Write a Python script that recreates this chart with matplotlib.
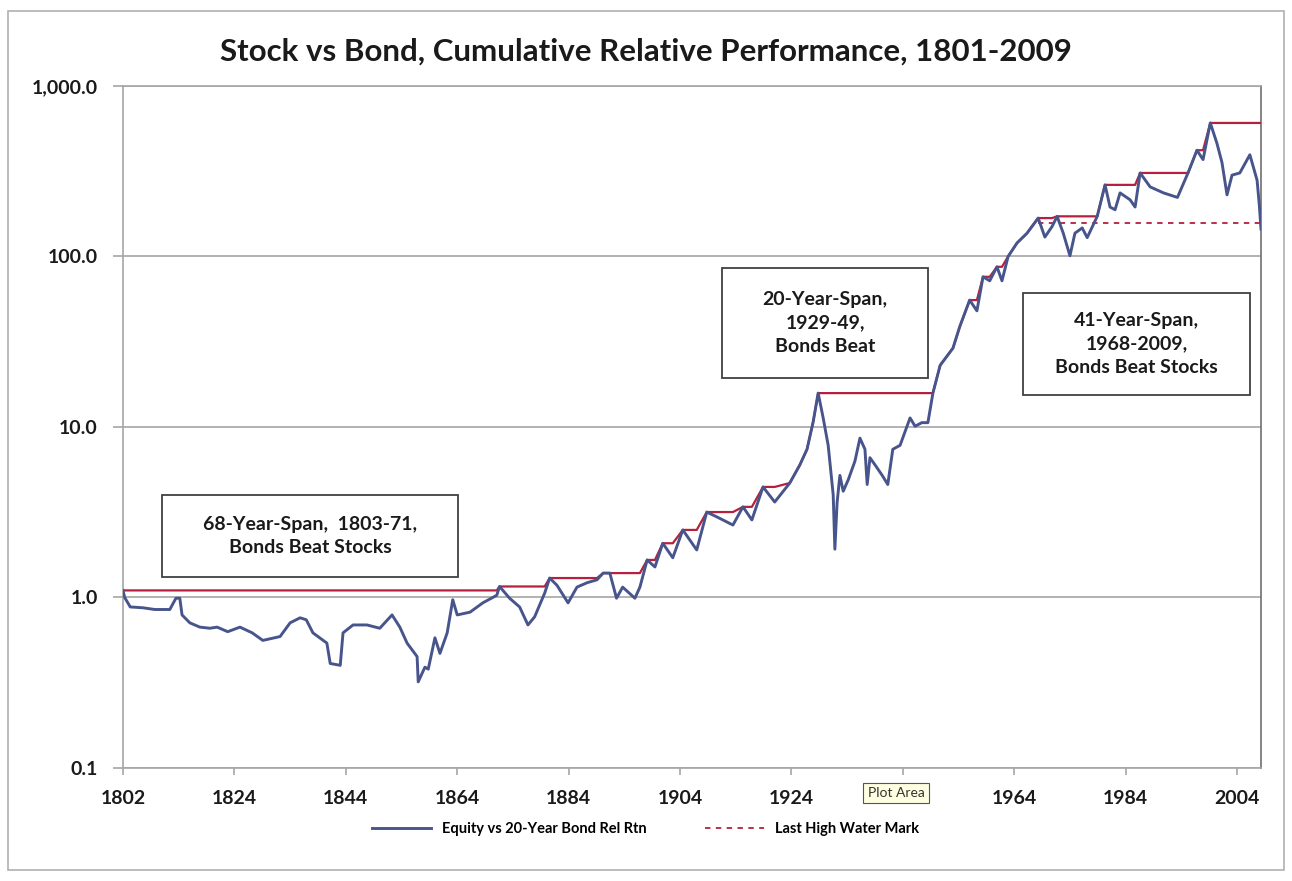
import matplotlib
matplotlib.use("Agg")
import matplotlib.pyplot as plt
import numpy as np
from matplotlib.lines import Line2D
from matplotlib.patches import Rectangle

plt.rcParams["font.family"] = ["Lato", "DejaVu Sans"]

# x is the chart's category position expressed in years (ticks every 20)
rel_years = [
    1804.0, 1804.3, 1805.3, 1807.6, 1809.7, 1812.4, 1813.5, 1814.2, 1814.6, 1816.0,
    1817.8, 1819.6, 1820.9, 1822.8, 1825.0, 1827.2, 1829.1, 1832.2, 1834.0, 1835.8,
    1836.9, 1838.1, 1840.6, 1841.2, 1843.0, 1843.5, 1845.3, 1847.8, 1850.1, 1852.3,
    1853.7, 1855.0, 1856.8, 1857.0, 1858.2, 1858.8, 1860.0, 1860.9, 1862.2, 1863.2,
    1864.0, 1866.3, 1868.6, 1871.1, 1871.6, 1873.4, 1875.2, 1876.7, 1877.9, 1879.7,
    1880.6, 1881.9, 1883.9, 1885.5, 1887.3, 1889.1, 1890.2, 1891.4, 1892.6, 1893.7,
    1895.9, 1896.8, 1898.1, 1899.5, 1900.9, 1902.7, 1904.5, 1907.0, 1908.8, 1910.6,
    1913.5, 1915.3, 1916.9, 1918.9, 1921.0, 1923.7, 1925.5, 1926.8, 1927.9, 1928.8,
    1929.7, 1930.6, 1931.5, 1931.8, 1932.2, 1932.7, 1933.3, 1934.2, 1935.4, 1936.3,
    1937.2, 1937.6, 1938.1, 1939.0, 1940.3, 1941.3, 1942.2, 1943.5, 1945.3, 1946.2,
    1947.4, 1948.5, 1949.4, 1950.7, 1953.0, 1954.2, 1956.0, 1957.3, 1958.4, 1959.6,
    1960.9, 1961.8, 1962.9, 1964.5, 1966.3, 1968.3, 1969.5, 1970.8, 1971.7, 1972.8,
    1974.0, 1974.9, 1976.2, 1977.1, 1978.9, 1980.3, 1981.2, 1982.1, 1983.0, 1984.8,
    1985.7, 1986.6, 1988.4, 1990.8, 1993.3, 1995.2, 1996.8, 1997.9, 1999.2, 2000.4,
    2001.3, 2002.2, 2003.1, 2004.5, 2006.3, 2007.6, 2008.0, 2008.3,
]
rel_values = [
    1.10, 1.00, 0.88, 0.87, 0.85, 0.85, 0.99, 0.99, 0.79, 0.71,
    0.67, 0.66, 0.67, 0.63, 0.67, 0.62, 0.56, 0.59, 0.71, 0.76,
    0.74, 0.62, 0.54, 0.41, 0.40, 0.62, 0.69, 0.69, 0.66, 0.79,
    0.67, 0.54, 0.45, 0.32, 0.39, 0.38, 0.58, 0.47, 0.62, 0.97,
    0.79, 0.82, 0.93, 1.03, 1.16, 0.99, 0.88, 0.69, 0.77, 1.06,
    1.30, 1.18, 0.93, 1.15, 1.22, 1.27, 1.39, 1.39, 0.99, 1.15,
    0.99, 1.15, 1.66, 1.51, 2.08, 1.71, 2.49, 1.90, 3.17, 2.97,
    2.66, 3.40, 2.85, 4.45, 3.63, 4.69, 5.98, 7.4, 10.7, 15.8,
    11.3, 7.8, 4.0, 1.92, 3.6, 5.2, 4.2, 4.9, 6.3, 8.6,
    7.4, 4.6, 6.6, 6.0, 5.2, 4.6, 7.4, 7.8, 11.3, 10.1,
    10.6, 10.6, 15.8, 23, 29, 38.6, 55.5, 48, 76, 72,
    87, 72, 100, 120, 137, 168, 130, 150, 172, 137,
    101, 137, 147, 129, 172, 263, 195, 188, 236, 215,
    195, 309, 256, 236, 222, 309, 420, 370, 607, 460,
    355, 230, 300, 309, 395, 280, 200, 145,
]
last_hwm_years = [1968.3, 2008.3]
last_hwm_level = 157

tick_pos = [1804, 1824, 1844, 1864, 1884, 1904, 1924, 1944, 1964, 1984, 2004]
tick_labels = ["1802", "1824", "1844", "1864", "1884", "1904", "1924", "1944", "1964", "1984", "2004"]
y_ticks = [0.1, 1, 10, 100, 1000]
y_labels = ["0.1", "1.0", "10.0", "100.0", "1,000.0"]

notes = [
    ("68-Year-Span,  1803-71,\nBonds Beat Stocks", (0.0343, 0.280, 0.2600, 0.120)),
    ("20-Year-Span,\n1929-49,\nBonds Beat", (0.5264, 0.5718, 0.1810, 0.1613)),
    ("41-Year-Span,\n1968-2009,\nBonds Beat Stocks", (0.7909, 0.5469, 0.1994, 0.1496)),
]

BLUE = "#48558c"
RED = "#b5203e"
GRID = "#a6a6a6"

fig = plt.figure(figsize=(12.92, 8.81), dpi=100)
fig.patches.append(Rectangle((0.0062, 0.012), 0.9876, 0.9755, transform=fig.transFigure,
                             fill=False, edgecolor="#b0b0b0", linewidth=1.2))
ax = fig.add_axes([0.0952, 0.1283, 0.8808, 0.7741])

hwm = np.maximum.accumulate(np.array(rel_values))
ax.plot(rel_years, hwm, color=RED, linewidth=1.6, zorder=3)
ax.plot(last_hwm_years, [last_hwm_level, last_hwm_level], color=RED, linewidth=1.3,
        linestyle=(0, (3, 3)), zorder=3)
ax.plot(rel_years, rel_values, color=BLUE, linewidth=2.1, zorder=4)

ax.set_yscale("log")
ax.set_ylim(0.1, 1000)
ax.set_xlim(1804, 2008.3)
ax.set_yticks(y_ticks)
ax.set_yticklabels(y_labels)
ax.yaxis.set_minor_locator(matplotlib.ticker.NullLocator())
ax.set_xticks(tick_pos)
ax.set_xticklabels(tick_labels)
for t in ax.get_xticklabels() + ax.get_yticklabels():
    t.set_fontweight("bold")
    t.set_fontsize(14)
    t.set_color("#1a1a1a")
ax.tick_params(axis="y", length=7, width=1.2, color=GRID, pad=11)
ax.tick_params(axis="x", length=5, width=1.2, color=GRID, pad=11)
ax.grid(axis="y", color=GRID, linewidth=1.2)
for side in ("left", "bottom", "top"):
    ax.spines[side].set_color(GRID)
    ax.spines[side].set_linewidth(1.2)
ax.spines["right"].set_color("#707070")
ax.spines["right"].set_linewidth(1.2)

for text, (x0, y0, w, h) in notes:
    ax.add_patch(Rectangle((x0, y0), w, h, transform=ax.transAxes, facecolor="white",
                           edgecolor="#404040", linewidth=1.3, zorder=5))
    ax.text(x0 + w / 2, y0 + h / 2, text, transform=ax.transAxes, ha="center", va="center",
            fontsize=14, fontweight="bold", color="#1a1a1a", linespacing=1.45, zorder=6)

fig.suptitle("Stock vs Bond, Cumulative Relative Performance, 1801-2009", x=0.5, y=0.941,
             va="center", fontsize=22.5, fontweight="bold", color="#1a1a1a")

# hover tooltip captured in the screenshot
fig.text(0.6935, 0.0999, "Plot Area", fontsize=10, color="#333333", ha="center", va="center",
         bbox=dict(boxstyle="square,pad=0.3", facecolor="#ffffe1", edgecolor="#555555", linewidth=0.8),
         zorder=10)

handles = [
    Line2D([], [], color=BLUE, linewidth=2.1),
    Line2D([], [], color=RED, linewidth=1.3, linestyle=(0, (3, 3))),
]
fig.legend(handles, ["Equity vs 20-Year Bond Rel Rtn", "Last High Water Mark"], loc="center",
           bbox_to_anchor=(0.5, 0.059), ncol=2, frameon=False, handlelength=4.0,
           columnspacing=4.0, prop={"size": 10.5, "weight": "bold"})

fig.savefig("out.png", dpi=100)
